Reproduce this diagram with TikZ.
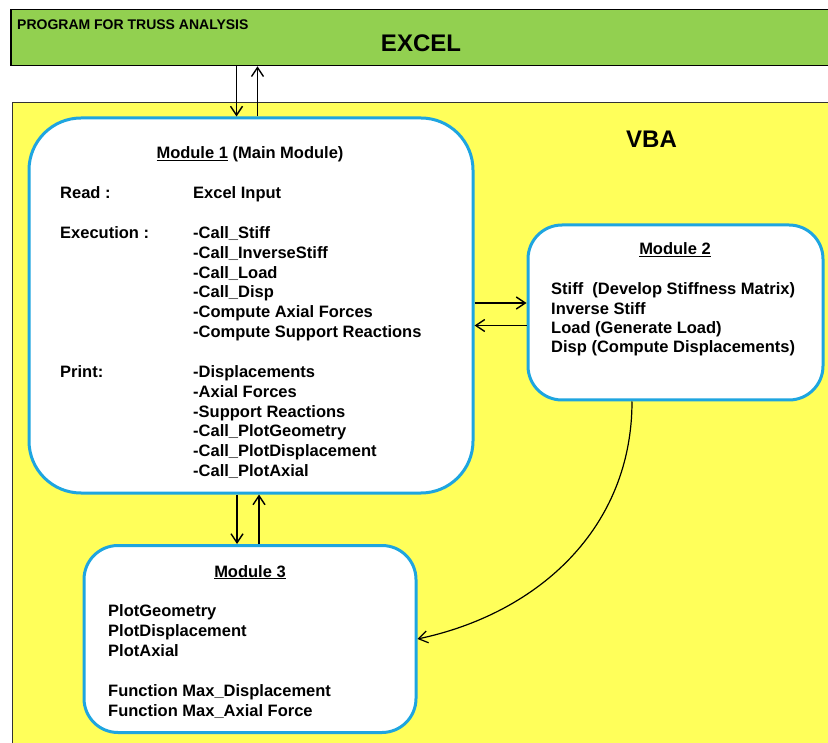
\documentclass[tikz,border=0pt]{standalone}
\usepackage{fontspec}
\setmainfont{Liberation Sans}
\usetikzlibrary{arrows.meta}
\definecolor{excelGreen}{HTML}{92D050}
\definecolor{vbaYellow}{HTML}{FFFF5A}
\definecolor{moduleBlue}{HTML}{1EA5E0}

\begin{document}
\begin{tikzpicture}[x=1pt, y=-1pt,
    trussBand/.style={draw=black, line width=1.6pt, fill=excelGreen, inner sep=0pt},
    trussArea/.style={draw=black!80, line width=1pt, fill=vbaYellow, inner sep=0pt},
    trussModule/.style={draw=moduleBlue, line width=3pt, fill=white, rounded corners=34pt},
    trussText/.style={anchor=base west, align=left, inner sep=0pt, font=\bfseries\fontsize{16.5}{19.8}\selectfont},
    trussTitle/.style={anchor=base, inner sep=0pt, font=\bfseries\fontsize{16.5}{19.8}\selectfont},
    trussArrow/.style={-{Straight Barb[length=9pt, width=12pt]}, line width=1.4pt}]

    \clip (0, 0) rectangle (828, 743);
    \fill[white] (0, 0) rectangle (828, 743);

    % excel band and vba area
    \node[trussBand, minimum width=822pt, minimum height=56pt] (excel) at (422, 37.5) {};
    \node[anchor=base west, inner sep=0pt, font=\bfseries\fontsize{14}{16}\selectfont] (excelTitle) at (17, 29.3) {PROGRAM FOR TRUSS ANALYSIS};
    \node[anchor=base, inner sep=0pt, font=\bfseries\fontsize{24}{28}\selectfont] (excelName) at (421, 52) {EXCEL};
    \node[trussArea, minimum width=832pt, minimum height=700pt] (vba) at (428, 452.7) {};
    \node[anchor=base west, inner sep=0pt, font=\bfseries\fontsize{24}{28}\selectfont] (vbaName) at (626, 147.3) {VBA};

    % modules
    \node[trussModule, rounded corners=52pt, minimum width=444pt, minimum height=375pt] (mod1) at (251, 305.5) {};
    \node[trussModule, minimum width=295pt, minimum height=175pt] (mod2) at (675.5, 312.5) {};
    \node[trussModule, minimum width=332pt, minimum height=187pt] (mod3) at (250, 639) {};

    % texts (base of a multi-line node = its last line)
    \node[trussTitle] (mod1Title) at (250, 159) {\underline{Module 1} (Main Module)};
    \node[trussText] (readLbl) at (60, 199) {Read :};
    \node[trussText] (readItem) at (193, 199) {Excel Input};
    \node[trussText] (execLbl) at (60, 238.5) {Execution :};
    \node[trussText] (execItems) at (193, 337.5) {-Call\_Stiff\\-Call\_InverseStiff\\-Call\_Load\\-Call\_Disp\\-Compute Axial Forces\\-Compute Support Reactions};
    \node[trussText] (printLbl) at (60, 377.5) {Print:};
    \node[trussText] (printItems) at (193, 476.5) {-Displacements\\-Axial Forces\\-Support Reactions\\-Call\_PlotGeometry\\-Call\_PlotDisplacement\\-Call\_PlotAxial};

    \node[trussTitle] (mod2Title) at (675, 255) {\underline{Module 2}};
    \node[trussText, font=\bfseries\fontsize{16.5}{19.3}\selectfont] (mod2Items) at (551, 352.9) {Stiff\ \ (Develop Stiffness Matrix)\\Inverse Stiff\\Load (Generate Load)\\Disp (Compute Displacements)};

    \node[trussTitle] (mod3Title) at (250, 577) {\underline{Module 3}};
    \node[trussText, font=\bfseries\fontsize{16.5}{20}\selectfont] (mod3Items) at (108, 716) {PlotGeometry\\PlotDisplacement\\PlotAxial\\{}\\Function Max\_Displacement\\Function Max\_Axial Force};

    % connectors
    \draw[trussArrow] ([xshift=-14.5pt]mod1.north |- excel.south) -- ([xshift=-14.5pt]mod1.north);
    \draw[trussArrow] ([xshift=6.5pt]mod1.north) -- ([xshift=6.5pt]mod1.north |- excel.south);
    \draw[trussArrow] ([yshift=9.5pt]mod2.west -| mod1.east) -- ([yshift=9.5pt]mod2.west);
    \draw[trussArrow] ([yshift=-13pt]mod2.west) -- ([yshift=-13pt]mod2.west -| mod1.east);
    \draw[trussArrow] ([xshift=-13pt]mod3.north |- mod1.south) -- ([xshift=-13pt]mod3.north);
    \draw[trussArrow] ([xshift=9pt]mod3.north) -- ([xshift=9pt]mod3.north |- mod1.south);
    \draw[trussArrow, line width=1.2pt] ([xshift=-43.5pt]mod2.south) to[out=-90, in=12] (mod3.east);
\end{tikzpicture}
\end{document}
